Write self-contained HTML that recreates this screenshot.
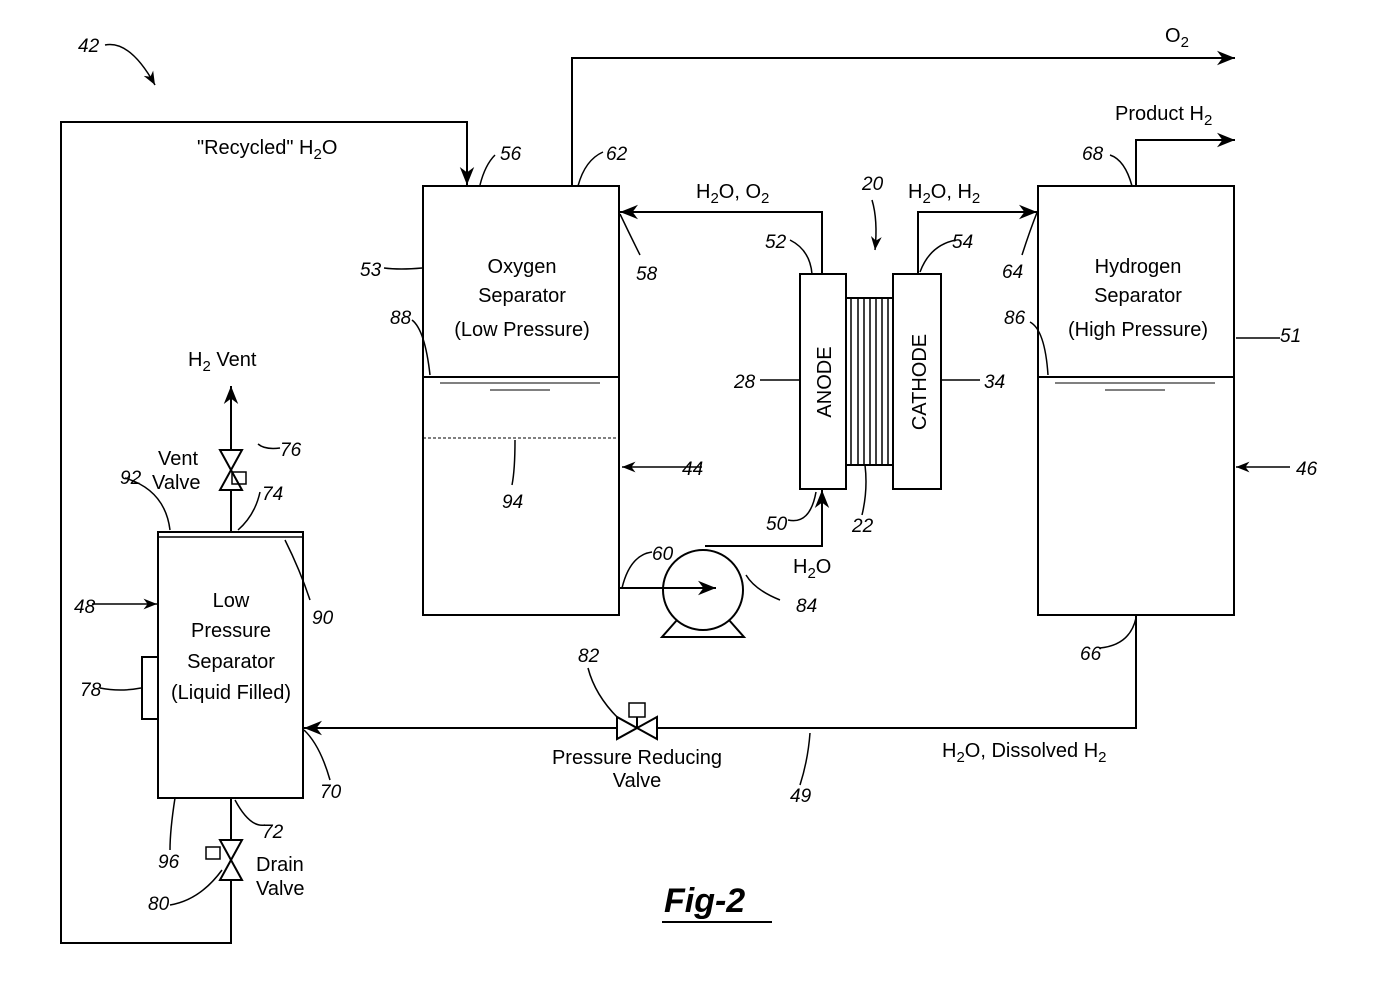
<!DOCTYPE html>
<html><head><style>body{margin:0;background:#fff}svg{display:block}text{font-family:"Liberation Sans",sans-serif;fill:#000}</style></head><body>
<svg width="1382" height="1000" viewBox="0 0 1382 1000" xmlns="http://www.w3.org/2000/svg">
<defs><marker id="a" viewBox="0 0 10 10" refX="10" refY="5" markerWidth="9" markerHeight="9" orient="auto-start-reverse"><path d="M0,1 L10,5 L0,9 L3,5z" fill="#000"/></marker></defs>
<g fill="none" stroke="#000" stroke-width="2">
<rect x="423" y="186" width="196" height="429"/>
<rect x="1038" y="186" width="196" height="429"/>
<rect x="800" y="274" width="46" height="215"/>
<rect x="846" y="298" width="47" height="167"/>
<rect x="893" y="274" width="48" height="215"/>
<rect x="158" y="532" width="145" height="266"/>
<line x1="158" y1="537" x2="303" y2="537" stroke-width="1.5"/>
<rect x="142" y="657" width="16" height="62"/>
<line x1="423" y1="377" x2="619" y2="377"/>
<line x1="440" y1="383" x2="600" y2="383" stroke-width="1"/>
<line x1="490" y1="390" x2="550" y2="390" stroke-width="1"/>
<line x1="423" y1="438" x2="619" y2="438" stroke-width="1" stroke-dasharray="3,2"/>
<line x1="1038" y1="377" x2="1234" y2="377"/>
<line x1="1055" y1="383" x2="1215" y2="383" stroke-width="1"/>
<line x1="1105" y1="390" x2="1165" y2="390" stroke-width="1"/>
<path d="M231 798 V943 H61 V122 H467 V185" marker-end="url(#a)"/>
<path d="M572 186 V58 H1235" marker-end="url(#a)"/>
<path d="M1136 186 V140 H1235" marker-end="url(#a)"/>
<path d="M822 274 V212 H620" marker-end="url(#a)"/>
<path d="M918 274 V212 H1037" marker-end="url(#a)"/>
<path d="M619 588 H716" marker-end="url(#a)"/>
<path d="M705 546 H822 V490" marker-end="url(#a)"/>
<circle cx="703" cy="590" r="40"/>
<path d="M677 620 L662 637 H744 L729 620"/>
<path d="M1136 615 V728 H304" marker-end="url(#a)"/>
<path d="M231 532 V386" marker-end="url(#a)"/>
<path d="M220 450 L242 450 L220 490 L242 490 Z" fill="#fff"/>
<rect x="232" y="472" width="14" height="12" stroke-width="1.5"/>
<path d="M220 840 L242 840 L220 880 L242 880 Z" fill="#fff"/>
<rect x="206" y="847" width="14" height="12" stroke-width="1.5"/>
<path d="M617 717 L617 739 L657 717 L657 739 Z" fill="#fff"/>
<line x1="637" y1="728" x2="637" y2="717"/>
<rect x="629" y="703" width="16" height="14" stroke-width="1.5"/>
<g stroke-width="1.5">
<line x1="851" y1="298" x2="851" y2="465"/><line x1="858" y1="298" x2="858" y2="465"/><line x1="864" y1="298" x2="864" y2="465"/><line x1="870" y1="298" x2="870" y2="465"/><line x1="876" y1="298" x2="876" y2="465"/><line x1="882" y1="298" x2="882" y2="465"/><line x1="888" y1="298" x2="888" y2="465"/>
</g>
<g stroke-width="1.5">
<path d="M105 45 Q130 40 155 85" marker-end="url(#a)"/>
<path d="M495 155 Q485 165 480 185"/>
<path d="M603 152 Q585 160 578 186"/>
<path d="M620 214 Q630 235 640 255"/>
<path d="M384 268 Q400 270 422 268"/>
<path d="M412 320 Q425 330 430 375"/>
<path d="M515 440 Q515 470 512 485"/>
<path d="M702 467 H622" marker-end="url(#a)"/>
<path d="M1290 467 H1236" marker-end="url(#a)"/>
<path d="M652 552 Q630 555 622 588"/>
<path d="M746 575 Q755 590 780 600"/>
<path d="M790 240 Q810 250 812 274"/>
<path d="M956 240 Q930 245 920 272"/>
<path d="M872 200 Q878 220 875 250" marker-end="url(#a)"/>
<path d="M788 520 Q810 525 816 492"/>
<path d="M760 380 H800"/><path d="M941 380 H980"/>
<path d="M862 515 Q868 490 865 465"/>
<path d="M1110 155 Q1125 160 1132 186"/>
<path d="M1022 255 Q1030 230 1038 210"/>
<path d="M1030 322 Q1045 330 1048 375"/>
<path d="M1236 338 H1280"/>
<path d="M1100 648 Q1130 645 1136 618"/>
<path d="M92 604 H157" marker-end="url(#a)"/>
<path d="M100 688 Q120 692 141 688"/>
<path d="M125 478 Q165 490 170 530"/>
<path d="M258 444 Q265 450 280 448"/>
<path d="M260 492 Q255 515 238 530"/>
<path d="M285 540 Q300 570 310 600"/>
<path d="M330 780 Q320 745 304 730"/>
<path d="M265 825 Q250 828 235 800"/>
<path d="M175 798 Q170 830 170 850"/>
<path d="M170 905 Q200 900 222 870"/>
<path d="M588 668 Q595 695 618 718"/>
<path d="M810 733 Q808 760 800 785"/>
</g>
<line x1="662" y1="922" x2="772" y2="922"/>
</g>
<g font-size="20">
<text x="197" y="154">"Recycled" H<tspan font-size="15" dy="5">2</tspan><tspan dy="-5">O</tspan></text>
<text x="1165" y="42">O<tspan font-size="15" dy="5">2</tspan></text>
<text x="1115" y="120">Product H<tspan font-size="15" dy="5">2</tspan></text>
<text x="696" y="198">H<tspan font-size="15" dy="5">2</tspan><tspan dy="-5">O, O</tspan><tspan font-size="15" dy="5">2</tspan></text>
<text x="908" y="198">H<tspan font-size="15" dy="5">2</tspan><tspan dy="-5">O, H</tspan><tspan font-size="15" dy="5">2</tspan></text>
<text x="522" y="273" text-anchor="middle">Oxygen</text>
<text x="522" y="302" text-anchor="middle">Separator</text>
<text x="522" y="336" text-anchor="middle">(Low Pressure)</text>
<text x="1138" y="273" text-anchor="middle">Hydrogen</text>
<text x="1138" y="302" text-anchor="middle">Separator</text>
<text x="1138" y="336" text-anchor="middle">(High Pressure)</text>
<text x="231" y="607" text-anchor="middle">Low</text>
<text x="231" y="637" text-anchor="middle">Pressure</text>
<text x="231" y="668" text-anchor="middle">Separator</text>
<text x="231" y="699" text-anchor="middle">(Liquid Filled)</text>
<text x="188" y="366">H<tspan font-size="15" dy="5">2</tspan><tspan dy="-5"> Vent</tspan></text>
<text x="158" y="465">Vent</text>
<text x="152" y="489">Valve</text>
<text x="256" y="871">Drain</text>
<text x="256" y="895">Valve</text>
<text x="637" y="764" text-anchor="middle">Pressure Reducing</text>
<text x="637" y="787" text-anchor="middle">Valve</text>
<text x="942" y="757">H<tspan font-size="15" dy="5">2</tspan><tspan dy="-5">O, Dissolved H</tspan><tspan font-size="15" dy="5">2</tspan></text>
<text x="793" y="573">H<tspan font-size="15" dy="5">2</tspan><tspan dy="-5">O</tspan></text>
<text transform="translate(831,382) rotate(-90)" text-anchor="middle">ANODE</text>
<text transform="translate(926,382) rotate(-90)" text-anchor="middle">CATHODE</text>
</g>
<g font-size="19" font-style="italic">
<text x="78" y="52">42</text><text x="500" y="160">56</text><text x="606" y="160">62</text>
<text x="636" y="280">58</text><text x="360" y="276">53</text><text x="390" y="324">88</text>
<text x="502" y="508">94</text><text x="682" y="475">44</text><text x="652" y="560">60</text>
<text x="765" y="248">52</text><text x="952" y="248">54</text><text x="862" y="190">20</text>
<text x="734" y="388">28</text><text x="984" y="388">34</text><text x="852" y="532">22</text>
<text x="766" y="530">50</text><text x="796" y="612">84</text><text x="1082" y="160">68</text>
<text x="1002" y="278">64</text><text x="1004" y="324">86</text><text x="1280" y="342">51</text>
<text x="1296" y="475">46</text><text x="1080" y="660">66</text><text x="578" y="662">82</text>
<text x="790" y="802">49</text><text x="320" y="798">70</text><text x="74" y="613">48</text>
<text x="80" y="696">78</text><text x="120" y="484">92</text><text x="280" y="456">76</text>
<text x="262" y="500">74</text><text x="312" y="624">90</text><text x="262" y="838">72</text>
<text x="158" y="868">96</text><text x="148" y="910">80</text>
</g>
<text x="664" y="912" font-size="34" font-weight="bold" font-style="italic">Fig-2</text>
</svg>
</body></html>
